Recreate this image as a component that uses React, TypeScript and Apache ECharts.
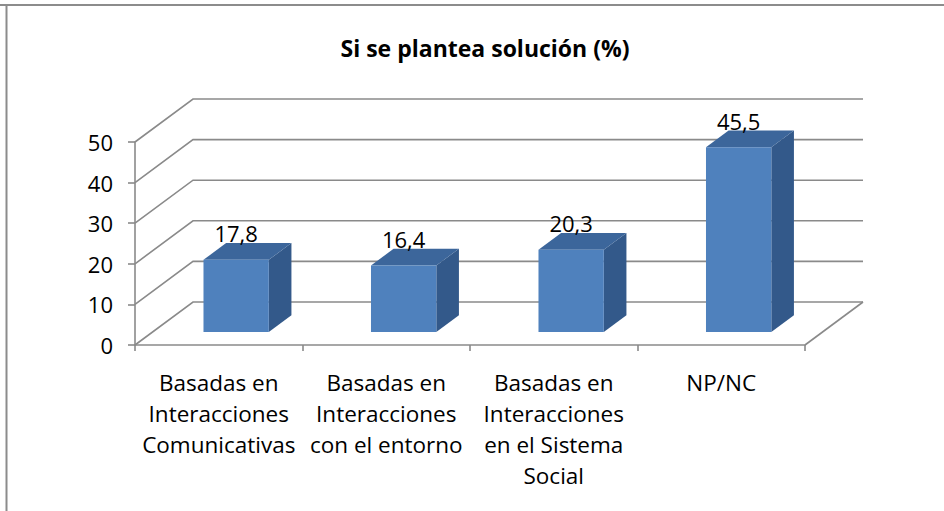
import React, { useEffect, useRef } from "react";
import * as echarts from "echarts";

const titleText = "Si se plantea solución (%)";
const categories = [
  "Basadas en\nInteracciones\nComunicativas",
  "Basadas en\nInteracciones\ncon el entorno",
  "Basadas en\nInteracciones\nen el Sistema\nSocial",
  "NP/NC",
];
const values = [17.8, 16.4, 20.3, 45.5];
const valueLabels = ["17,8", "16,4", "20,3", "45,5"];
const yTicks = [0, 10, 20, 30, 40, 50];

const DX = 58;
const DY = -43;
const F0 = 0.3;
const F1 = 0.69;
const FRONT = "#4F81BD";
const TOP = "#3C669B";
const SIDE = "#33598A";
const GRID = "#8a8a8a";
const FONT = "'Open Sans', 'Noto Sans', sans-serif";

export default function App() {
  const ref = useRef<HTMLDivElement>(null);
  useEffect(() => {
    if (!ref.current) return;
    const chart = echarts.init(ref.current, undefined, { renderer: "svg" });
    chart.setOption({
      animation: false,
      backgroundColor: "#ffffff",
      title: {
        text: titleText,
        left: 480,
        textAlign: "center",
        top: 31,
        textStyle: { fontFamily: FONT, fontSize: 23, fontWeight: "bold", color: "#000" },
      },
      graphic: [
        { type: "line", shape: { x1: 0, y1: 5, x2: 944, y2: 5 }, style: { stroke: "#8c8c8c", lineWidth: 2 } },
        { type: "line", shape: { x1: 6.5, y1: 4, x2: 6.5, y2: 511 }, style: { stroke: "#8c8c8c", lineWidth: 2 } },
      ],
      grid: { left: 135, right: 139, top: 142, bottom: 166, containLabel: false },
      xAxis: {
        type: "category",
        data: categories,
        boundaryGap: true,
        axisLine: { show: true, lineStyle: { color: GRID, width: 1.6 } },
        axisTick: { show: true, length: 6, interval: 0, alignWithLabel: false, lineStyle: { color: GRID, width: 1.6 } },
        axisLabel: {
          interval: 0,
          margin: 22,
          fontFamily: FONT,
          fontSize: 22.5,
          lineHeight: 31,
          color: "#000",
          align: "center",
        },
        splitLine: { show: false },
      },
      yAxis: {
        type: "value",
        min: 0,
        max: 50,
        interval: 10,
        axisLine: { show: true, lineStyle: { color: GRID, width: 1.6 } },
        axisTick: { show: true, length: 7, lineStyle: { color: GRID, width: 1.6 } },
        axisLabel: { margin: 22, fontFamily: FONT, fontSize: 22, color: "#000" },
        splitLine: { show: false },
      },
      series: [
        {
          type: "custom",
          name: "walls",
          z: 1,
          silent: true,
          data: yTicks.map((v) => [0, v]),
          encode: { x: 0, y: 1 },
          renderItem: (params: any, api: any) => {
            const v = api.value(1);
            const p = api.coord([0, v]);
            const cs = params.coordSys;
            const x0 = cs.x;
            const x1 = cs.x + cs.width;
            const y = p[1];
            const children: any[] = [
              {
                type: "polyline",
                shape: { points: [[x0, y], [x0 + DX, y + DY], [x1 + DX, y + DY]] },
                style: { stroke: GRID, lineWidth: 1.6, fill: "none" },
              },
            ];
            if (v === 0) {
              children.push({
                type: "line",
                shape: { x1: x1, y1: y, x2: x1 + DX, y2: y + DY },
                style: { stroke: GRID, lineWidth: 1.6 },
              });
            }
            return { type: "group", children };
          },
        },
        {
          type: "custom",
          name: "bars",
          z: 3,
          data: values.map((v, i) => [i, v]),
          encode: { x: 0, y: 1 },
          renderItem: (params: any, api: any) => {
            const i = api.value(0);
            const v = api.value(1);
            const base = api.coord([i, 0]);
            const top = api.coord([i, v]);
            const cw = api.size([1, 0])[0];
            const bw = cw * 0.39;
            const fx = DX * F0;
            const fy = DY * F0;
            const bx = DX * (F1 - F0);
            const by = DY * (F1 - F0);
            const xl = base[0] - bw / 2 + fx;
            const xr = xl + bw;
            const yt = top[1] + fy;
            const yb = base[1] + fy;
            return {
              type: "group",
              children: [
                {
                  type: "polygon",
                  shape: { points: [[xr, yb], [xr + bx, yb + by], [xr + bx, yt + by], [xr, yt]] },
                  style: { fill: SIDE },
                },
                {
                  type: "polygon",
                  shape: { points: [[xl, yt], [xr, yt], [xr + bx, yt + by], [xl + bx, yt + by]] },
                  style: { fill: TOP },
                },
                {
                  type: "rect",
                  shape: { x: xl, y: yt, width: bw, height: yb - yt },
                  style: { fill: FRONT },
                },
                {
                  type: "text",
                  x: (xl + xr) / 2,
                  y: yt + by - 10,
                  style: {
                    text: valueLabels[params.dataIndex],
                    fontFamily: FONT,
                    fontSize: 22,
                    fill: "#000",
                    align: "center",
                    verticalAlign: "middle",
                    textAlign: "center",
                    textVerticalAlign: "middle",
                  },
                },
              ],
            };
          },
        },
      ],
    });
    return () => chart.dispose();
  }, []);
  return (
    <div
      ref={ref}
      style={{ position: "absolute", left: 0, top: 0, width: 944, height: 511, background: "#fff" }}
    />
  );
}
